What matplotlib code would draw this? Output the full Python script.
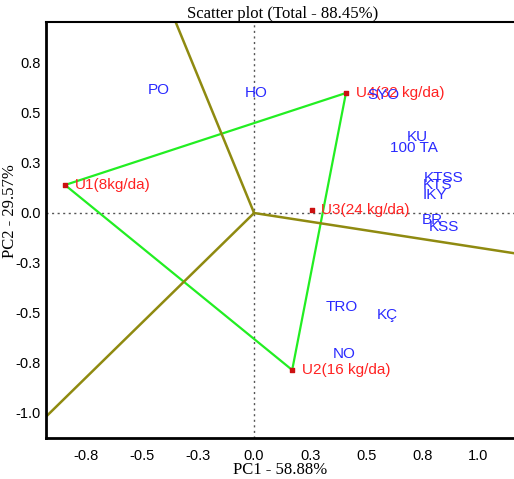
import numpy as np
import matplotlib
matplotlib.use("Agg")
import matplotlib.pyplot as plt

# Genotypes (red)
gen_names = ["U1(8kg/da)", "U2(16 kg/da)", "U3(24 kg/da)", "U4(32 kg/da)"]
gen_x = [-0.844, 0.170, 0.257, 0.410]
gen_y = [0.140, -0.785, 0.015, 0.600]
hull_order = [0, 3, 1]  # polygon vertices: U1, U4, U2

# Environments / traits (blue)
env_names = ["PO", "HO", "SYO", "KU", "100 TA", "KTSS", "KTS", "IKY", "BR", "KSS", "TRO", "KÇ", "NO"]
env_x = [-0.424, 0.009, 0.576, 0.728, 0.714, 0.844, 0.821, 0.808, 0.795, 0.848, 0.393, 0.594, 0.402]
env_y = [0.615, 0.600, 0.590, 0.380, 0.325, 0.175, 0.140, 0.090, -0.035, -0.070, -0.470, -0.510, -0.705]

xticks = [-0.75, -0.5, -0.25, 0.0, 0.25, 0.5, 0.75, 1.0]
xticklabels = ["-0.8", "-0.5", "-0.3", "0.0", "0.3", "0.5", "0.8", "1.0"]
yticks = [0.75, 0.5, 0.25, 0.0, -0.25, -0.5, -0.75, -1.0]
yticklabels = ["0.8", "0.5", "0.3", "0.0", "-0.3", "-0.5", "-0.8", "-1.0"]

fig = plt.figure(figsize=(5.14, 4.79), dpi=100)
ax = fig.add_axes([46/514, 1-438/479, 474/514, 416/479])
ax.set_xlim(-0.929, 1.187)
ax.set_ylim(-1.125, 0.955)

sans = "Liberation Sans"
serif = "Liberation Serif"

# reference lines
ax.axhline(0, color="#555555", ls=(0, (1.5, 2.5)), lw=1.0, zorder=1)
ax.axvline(0, color="#555555", ls=(0, (1.5, 2.5)), lw=1.0, zorder=1)

# polygon
px = [gen_x[i] for i in hull_order] + [gen_x[hull_order[0]]]
py = [gen_y[i] for i in hull_order] + [gen_y[hull_order[0]]]
ax.plot(px, py, color="#22ee22", lw=1.6, zorder=2)

# perpendicular rays from origin to each polygon side
for k in range(len(hull_order)):
    a = hull_order[k]
    b = hull_order[(k + 1) % len(hull_order)]
    ax_, ay_ = gen_x[a], gen_y[a]
    bx_, by_ = gen_x[b], gen_y[b]
    nx, ny = -(by_ - ay_), (bx_ - ax_)
    if nx * ax_ + ny * ay_ < 0:
        nx, ny = -nx, -ny
    n = np.hypot(nx, ny)
    ax.plot([0, 5 * nx / n], [0, 5 * ny / n], color="#8f8a10", lw=1.8, zorder=2)

# genotype points
ax.scatter(gen_x, gen_y, marker="s", s=9, color="#cc1111", zorder=4)
for name, x, y in zip(gen_names, gen_x, gen_y):
    ax.annotate(name, (x, y), xytext=(7, 0), textcoords="offset points",
                ha="left", va="center", color="#ff2222", fontsize=11,
                family=sans, zorder=5)

for name, x, y in zip(env_names, env_x, env_y):
    ax.text(x, y, name, ha="center", va="center", color="#2a2aff",
            fontsize=11, family=sans, zorder=5)

ax.set_xticks(xticks)
ax.set_xticklabels(xticklabels, family=sans, fontsize=10.5)
ax.set_yticks(yticks)
ax.set_yticklabels(yticklabels, family=sans, fontsize=10.5)
ax.tick_params(axis="x", length=0, pad=8)
ax.tick_params(axis="y", length=0, pad=4)

for s in ["left", "bottom"]:
    ax.spines[s].set_linewidth(2.0)
ax.spines["top"].set_linewidth(1.5)
ax.spines["right"].set_linewidth(1.5)

ax.set_xlabel("PC1 - 58.88%", family=serif, fontsize=12)
ax.xaxis.set_label_coords(0.494, -0.058)
ax.set_ylabel("PC2 - 29.57%", family=serif, fontsize=12)
ax.yaxis.set_label_coords(-0.06, 0.546)
ax.set_title("Scatter plot (Total - 88.45%)", family=serif, fontsize=12, pad=3)

fig.savefig("out.png", dpi=100)
